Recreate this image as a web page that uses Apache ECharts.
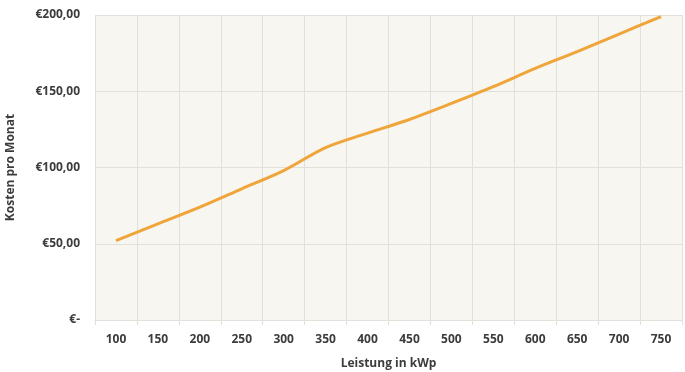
<!DOCTYPE html>
<html>
<head>
<meta charset="utf-8">
<script src="https://cdn.jsdelivr.net/npm/echarts@6/dist/echarts.min.js"></script>
<style>
  html, body { margin: 0; padding: 0; background: #fff; }
  #chart { width: 685px; height: 372px; }
</style>
</head>
<body>
<div id="chart"></div>
<script>
// Leistung (kWp) on x, monthly cost in euro on y
const categories = ['100', '150', '200', '250', '300', '350', '400', '450', '500', '550', '600', '650', '700', '750']
const kosten = [52, 63, 74, 86, 98, 113, 122.5, 131.5, 142, 153, 165, 176, 187.5, 199]
const yTicks = [0, 50, 100, 150, 200]

const chart = echarts.init(document.getElementById('chart'))
const textColor = '#3c3c3c'
const gridColor = '#e2e0da'
const font = 'Open Sans'

chart.setOption({
    animation: false,
    grid: {
        left: 95, right: 3, top: 15, bottom: 52,
        outerBoundsMode: 'none',
        containLabel: false,
        show: true, backgroundColor: '#f7f6f1', borderWidth: 0
    },
    xAxis: {
        type: 'category',
        data: categories,
        boundaryGap: true,
        name: 'Leistung in kWp',
        nameLocation: 'middle',
        nameGap: 38,
        nameTextStyle: { color: textColor, fontFamily: font, fontWeight: 'bold', fontSize: 12 },
        axisLine: { show: true, lineStyle: { color: gridColor } },
        axisTick: { show: true, length: 5, lineStyle: { color: gridColor } },
        axisLabel: { color: textColor, fontFamily: font, fontWeight: 'bold', fontSize: 12, margin: 14 },
        splitLine: { show: true, interval: 0, lineStyle: { color: gridColor, width: 1 } }
    },
    yAxis: {
        type: 'value',
        min: yTicks[0],
        max: yTicks[yTicks.length - 1],
        interval: 50,
        name: 'Kosten pro Monat',
        nameLocation: 'middle',
        nameGap: 78,
        nameTextStyle: { color: textColor, fontFamily: font, fontWeight: 'bold', fontSize: 12 },
        axisLine: { show: false },
        axisTick: { show: false },
        axisLabel: {
            color: textColor, fontFamily: font, fontWeight: 'bold', fontSize: 12, margin: 15,
            formatter: v => v === 0 ? '€-' : '€' + v.toFixed(2).replace('.', ',')
        },
        splitLine: { show: true, lineStyle: { color: gridColor, width: 1 } }
    },
    series: [{
        type: 'line',
        data: kosten,
        smooth: 0.3,
        showSymbol: false,
        lineStyle: { color: '#f0a53a', width: 3 }
    }]
})
</script>
</body>
</html>
